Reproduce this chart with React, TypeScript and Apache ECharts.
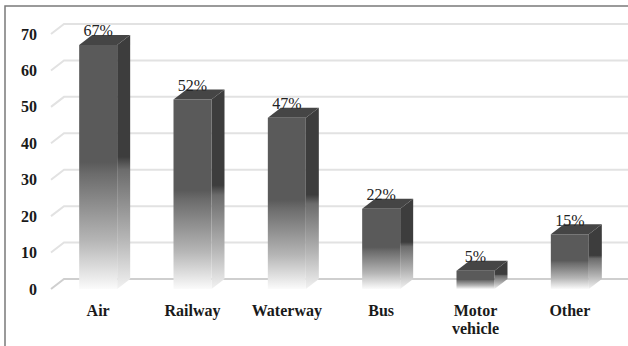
import React, { useEffect, useRef } from "react";
import * as echarts from "echarts";

const categories = ["Air", "Railway", "Waterway", "Bus", "Motor\nvehicle", "Other"];
const values = [67, 52, 47, 22, 5, 15];
const valueLabels = ["67%", "52%", "47%", "22%", "5%", "15%"];
const yTicks = [0, 10, 20, 30, 40, 50, 60, 70];

const FONT = "'Liberation Serif', 'Times New Roman', serif";
const DX = 13;
const DY = 10;
const HALF = 19;

export default function App() {
  const ref = useRef<HTMLDivElement>(null);
  useEffect(() => {
    if (!ref.current) return;
    const chart = echarts.init(ref.current, undefined, { renderer: "svg" });
    const fade = (c: string, end: string) => ({
      type: "linear",
      x: 0,
      y: 0,
      x2: 0,
      y2: 1,
      colorStops: [
        { offset: 0, color: c },
        { offset: 0.48, color: c },
        { offset: 0.53, color: "#6c6c6c" },
        { offset: 0.8, color: "#b5b5b5" },
        { offset: 1, color: end },
      ],
    });
    chart.setOption({
      animation: false,
      backgroundColor: "#ffffff",
      grid: { left: 51, right: 11, top: 34, bottom: 57 },
      xAxis: {
        type: "category",
        data: categories,
        axisLine: { show: false },
        axisTick: { show: false },
        axisLabel: {
          fontFamily: FONT,
          fontWeight: "bold",
          fontSize: 16,
          color: "#1a1a1a",
          margin: 12,
          lineHeight: 18,
          interval: 0,
        },
      },
      yAxis: {
        type: "value",
        min: 0,
        max: 70,
        interval: 10,
        axisLine: { show: false },
        axisTick: { show: false },
        splitLine: { show: false },
        axisLabel: {
          fontFamily: FONT,
          fontWeight: "bold",
          fontSize: 16,
          color: "#1a1a1a",
          margin: 14,
        },
      },
      graphic: [
        {
          type: "rect",
          shape: { x: 5, y: 6, width: 800, height: 500 },
          style: { fill: "none", stroke: "#7a7a7a", lineWidth: 1.5 },
          silent: true,
        },
      ],
      series: [
        {
          type: "custom",
          clip: false,
          z: 1,
          data: yTicks.map((v) => [0, v]),
          renderItem: (params: any, api: any) => {
            const y = api.coord([0, api.value(1)])[1];
            const cs = params.coordSys;
            return {
              type: "polyline",
              shape: {
                points: [
                  [cs.x, y],
                  [cs.x + DX, y - DY],
                  [cs.x + cs.width + 20, y - DY],
                ],
              },
              style: {
                fill: "none",
                stroke: api.value(1) === 0 ? "#cfcfcf" : "#e2e2e2",
                lineWidth: 2,
              },
              silent: true,
            };
          },
        },
        {
          type: "custom",
          clip: false,
          z: 2,
          data: values.map((v, i) => [i, v]),
          renderItem: (params: any, api: any) => {
            const idx = params.dataIndex;
            const top = api.coord([api.value(0), api.value(1)]);
            const base = api.coord([api.value(0), 0]);
            const cx = top[0];
            const ty = top[1];
            const by = base[1];
            return {
              type: "group",
              children: [
                {
                  type: "polygon",
                  shape: {
                    points: [
                      [cx + HALF, ty],
                      [cx + HALF + DX, ty - DY],
                      [cx + HALF + DX, by - DY],
                      [cx + HALF, by],
                    ],
                  },
                  style: { fill: fade("#3d3d3d", "#f2f2f2") },
                },
                {
                  type: "polygon",
                  shape: {
                    points: [
                      [cx - HALF, ty],
                      [cx - HALF + DX, ty - DY],
                      [cx + HALF + DX, ty - DY],
                      [cx + HALF, ty],
                    ],
                  },
                  style: { fill: "#454545" },
                },
                {
                  type: "rect",
                  shape: { x: cx - HALF, y: ty, width: HALF * 2, height: by - ty },
                  style: { fill: fade("#5a5a5a", "#fbfbfb") },
                },
                {
                  type: "text",
                  x: cx,
                  y: ty - 14,
                  style: {
                    text: valueLabels[idx],
                    fontFamily: FONT,
                    fontSize: 16,
                    fill: "#222",
                    align: "center",
                    verticalAlign: "middle",
                  },
                  z2: 10,
                },
              ],
            };
          },
        },
      ],
    });
    return () => chart.dispose();
  }, []);
  return (
    <div
      ref={ref}
      style={{ position: "fixed", left: 0, top: 0, width: 628, height: 346, background: "#fff" }}
    />
  );
}
